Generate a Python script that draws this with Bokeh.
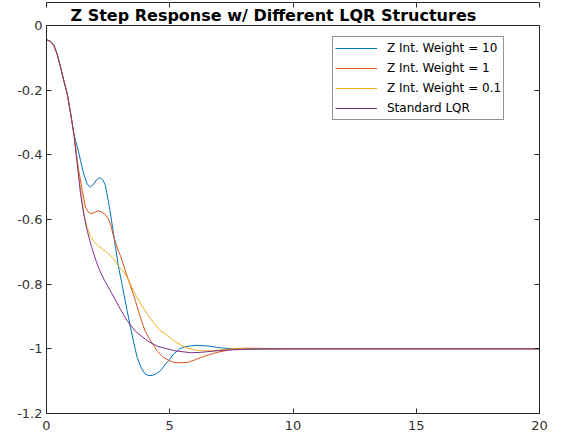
from bokeh.plotting import figure
from bokeh.models import LinearAxis, Legend, LegendItem, FixedTicker, Range1d, Title
from bokeh.embed import file_html
from bokeh.resources import INLINE

# shared initial segment (all four responses coincide)
t_start = [0.0, 0.16, 0.30, 0.43, 0.57, 0.70, 0.84, 0.97, 1.11]
z_start = [-0.044, -0.049, -0.062, -0.088, -0.129, -0.17, -0.211, -0.268, -0.335]

# Z Int. Weight = 10
t_w10 = [1.18, 1.30, 1.38, 1.51, 1.65, 1.78, 1.92, 2.03, 2.12, 2.20, 2.29, 2.39, 2.50, 2.60,
         2.70, 2.80, 2.93, 3.05, 3.14, 3.27, 3.41, 3.55, 3.68, 3.85, 4.0, 4.15, 4.3, 4.45, 4.62,
         4.8, 5.0, 5.16, 5.4, 5.6, 5.84, 6.1, 6.52, 6.9, 7.19, 7.6, 8.0, 9.0, 10.0, 20.0]
z_w10 = [-0.356, -0.39, -0.418, -0.459, -0.49, -0.50, -0.49, -0.477, -0.472, -0.472, -0.478,
         -0.495, -0.54, -0.583, -0.635, -0.686, -0.75, -0.795, -0.83, -0.882, -0.934, -0.985,
         -1.027, -1.06, -1.078, -1.083, -1.082, -1.077, -1.068, -1.05, -1.032, -1.016, -1.0,
         -0.994, -0.991, -0.989, -0.991, -0.995, -0.998, -1.0, -1.002, -1.001, -1.0, -1.0]

# Z Int. Weight = 1
t_w1 = [1.22, 1.31, 1.45, 1.58, 1.70, 1.80, 1.95, 2.10, 2.25, 2.39, 2.50, 2.60, 2.73, 2.93,
        3.0, 3.14, 3.27, 3.41, 3.6, 3.81, 4.0, 4.22, 4.5, 4.76, 5.0, 5.16, 5.44, 5.71, 6.0,
        6.25, 6.6, 6.92, 7.3, 7.6, 8.0, 9.0, 10.0, 20.0]
z_w1 = [-0.40, -0.45, -0.51, -0.562, -0.577, -0.582, -0.578, -0.573, -0.577, -0.585, -0.597,
        -0.614, -0.655, -0.70, -0.712, -0.745, -0.775, -0.805, -0.85, -0.903, -0.945, -0.975,
        -1.008, -1.027, -1.037, -1.042, -1.043, -1.042, -1.035, -1.027, -1.018, -1.011,
        -1.005, -1.0, -0.998, -0.999, -1.0, -1.0]

# Z Int. Weight = 0.1
t_w01 = [1.22, 1.35, 1.45, 1.55, 1.65, 1.78, 1.92, 2.1, 2.33, 2.5, 2.73, 2.93, 3.14, 3.35,
         3.54, 3.8, 4.09, 4.35, 4.62, 4.9, 5.16, 5.45, 5.71, 6.0, 6.25, 6.6, 7.06, 7.6, 10.0,
         20.0]
z_w01 = [-0.40, -0.49, -0.545, -0.595, -0.624, -0.652, -0.668, -0.682, -0.695, -0.705,
         -0.722, -0.745, -0.762, -0.79, -0.822, -0.858, -0.893, -0.92, -0.944, -0.958, -0.975,
         -0.988, -0.997, -1.003, -1.006, -1.006, -1.003, -1.0, -1.0, -1.0]

# Standard LQR
t_std = [1.22, 1.38, 1.51, 1.62, 1.72, 1.82, 1.92, 2.02, 2.12, 2.22, 2.35, 2.5, 2.73, 3.0,
         3.27, 3.6, 4.09, 4.5, 4.9, 5.2, 5.84, 6.25, 6.92, 7.6, 8.5, 10.0, 20.0]
z_std = [-0.41, -0.52, -0.583, -0.625, -0.655, -0.683, -0.707, -0.73, -0.75, -0.768, -0.788,
         -0.808, -0.84, -0.878, -0.913, -0.945, -0.975, -0.992, -1.0, -1.006, -1.012, -1.011,
         -1.006, -1.003, -1.0, -1.0, -1.0]

labels = ["Z Int. Weight = 10", "Z Int. Weight = 1", "Z Int. Weight = 0.1", "Standard LQR"]
colors = ["#0072BD", "#D95319", "#EDB120", "#7E2F8E"]
x_ticks = [0, 5, 10, 15, 20]
y_ticks = [-1.2, -1.0, -0.8, -0.6, -0.4, -0.2, 0.0]
y_tick_labels = {-1.2: "-1.2", -1.0: "-1", -0.8: "-0.8", -0.6: "-0.6", -0.4: "-0.4", -0.2: "-0.2", 0.0: "0"}

AX = "#262626"
FONT = "DejaVu Sans"

p = figure(width=566, height=441, output_backend="svg", toolbar_location=None,
           x_range=Range1d(0, 20), y_range=Range1d(-1.2, 0),
           x_axis_location=None, y_axis_location=None,
           min_border_left=46, min_border_right=27, min_border_bottom=28, min_border_top=25)
p.grid.visible = False
p.outline_line_color = AX
p.outline_line_width = 1
p.background_fill_color = "white"
p.border_fill_color = "white"

title = Title(text="Z Step Response w/ Different LQR Structures", align="left", offset=24,
              text_font=FONT, text_font_size="16px", text_font_style="bold",
              text_color="black", standoff=2)
p.add_layout(title, "above")


def make_axis(show_labels, standoff=4):
    ax = LinearAxis()
    ax.axis_line_color = AX
    ax.major_tick_line_color = AX
    ax.major_tick_in = 5
    ax.major_tick_out = 0
    ax.minor_tick_line_color = None
    ax.major_label_text_font = FONT
    ax.major_label_text_font_size = "13px" if show_labels else "0px"
    ax.major_label_text_color = "#333333" if show_labels else None
    ax.major_label_standoff = standoff
    return ax


bottom = make_axis(True, standoff=7)
bottom.ticker = FixedTicker(ticks=x_ticks)
left = make_axis(True, standoff=4)
left.ticker = FixedTicker(ticks=y_ticks)
left.major_label_overrides = y_tick_labels
top = make_axis(False)
top.ticker = FixedTicker(ticks=x_ticks)
right = make_axis(False)
right.ticker = FixedTicker(ticks=y_ticks)
p.add_layout(bottom, "below")
p.add_layout(left, "left")
p.add_layout(top, "above")
p.add_layout(right, "right")

series = [(t_w10, z_w10), (t_w1, z_w1), (t_w01, z_w01), (t_std, z_std)]
items = []
for (tt, zz), lab, col in zip(series, labels, colors):
    r = p.line(t_start + tt, z_start + zz, line_color=col, line_width=1)
    items.append(LegendItem(label=lab, renderers=[r]))

legend = Legend(items=items, location=(286, 293), padding=2, spacing=2,
                glyph_width=42, glyph_height=18, label_height=18, label_standoff=10,
                label_text_font=FONT, label_text_font_size="12px", label_text_color="black",
                border_line_color=AX, border_line_width=1, background_fill_alpha=1,
                margin=0)
p.add_layout(legend, "center")

open("out.html", "w").write(file_html(p, INLINE))
